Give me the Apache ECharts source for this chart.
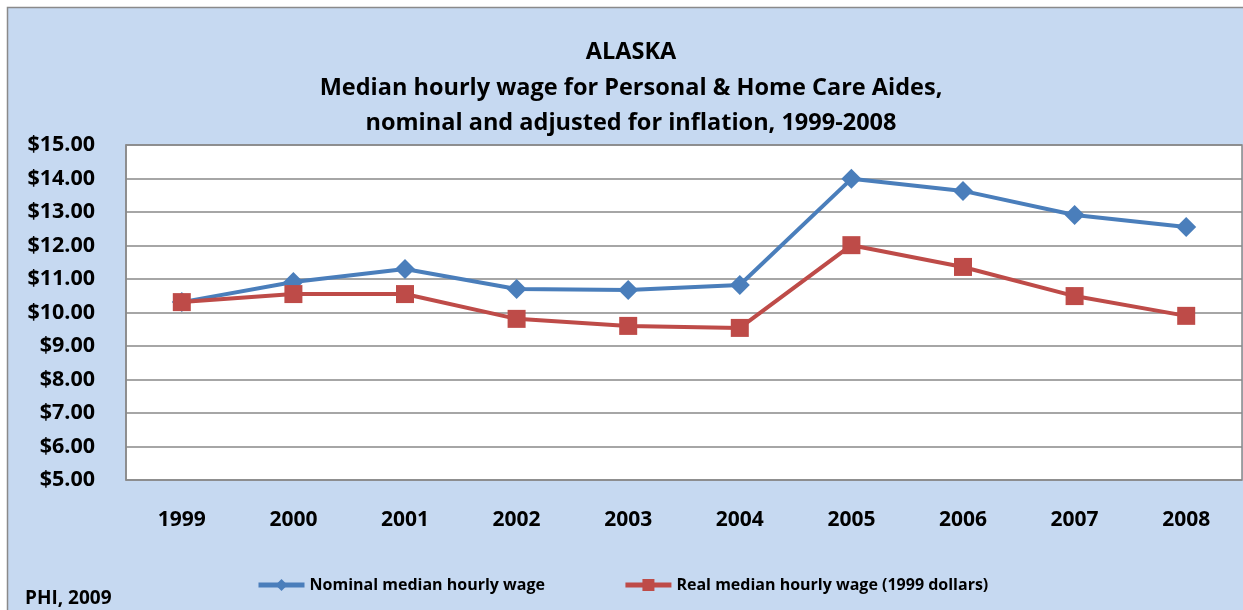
<!DOCTYPE html>
<html>
<head>
<meta charset="utf-8">
<script src="https://cdn.jsdelivr.net/npm/echarts@6/dist/echarts.min.js"></script>
<style>
  html, body { margin: 0; padding: 0; background: #fff; }
  #container { width: 1243px; height: 610px; }
</style>
</head>
<body>
<div id="container"></div>
<script>
// data
var years = ["1999", "2000", "2001", "2002", "2003", "2004", "2005", "2006", "2007", "2008"];
var nominalWage = [10.31, 10.91, 11.30, 10.70, 10.67, 10.82, 13.99, 13.63, 12.91, 12.55];
var realWage = [10.31, 10.55, 10.55, 9.81, 9.60, 9.54, 12.01, 11.36, 10.49, 9.90];

var titleLines = [
  "ALASKA",
  "Median hourly wage for Personal & Home Care Aides,",
  "nominal and adjusted for inflation, 1999-2008"
];

var font = "'Open Sans', 'Liberation Sans', sans-serif";

var dom = document.getElementById("container");
var myChart = echarts.init(dom);

var option = {
  backgroundColor: "#fff",
  animation: false,
  graphic: [
    {
      type: "rect",
      z: -10,
      shape: { x: 7.5, y: 7.5, width: 1250, height: 620 },
      style: { fill: "#C6D9F1", stroke: "#8a8a8a", lineWidth: 1.5 }
    },
    {
      type: "text",
      left: 25,
      top: 589,
      style: { text: "PHI, 2009", font: "bold 19px " + font, fill: "#000" }
    }
  ],
  title: {
    text: titleLines.join("\n"),
    left: 626,
    textAlign: "center",
    top: 30,
    textStyle: {
      fontFamily: font,
      fontWeight: "bold",
      fontSize: 23.5,
      lineHeight: 35.5,
      color: "#000"
    }
  },
  legend: {
    left: 251,
    top: 572,
    itemWidth: 46,
    itemHeight: 15,
    itemGap: 78,
    lineStyle: { width: 5 },
    textStyle: { fontFamily: font, fontWeight: "bold", fontSize: 16, color: "#000" },
    data: ["Nominal median hourly wage", "Real median hourly wage (1999 dollars)"]
  },
  grid: {
    left: 126,
    top: 145,
    right: 1,
    bottom: 130,
    show: true,
    backgroundColor: "#fff",
    borderColor: "#888",
    borderWidth: 1.5
  },
  xAxis: {
    type: "category",
    data: years,
    boundaryGap: true,
    axisLine: { show: false },
    axisTick: { show: false },
    axisLabel: {
      margin: 30,
      fontFamily: font,
      fontWeight: "bold",
      fontSize: 21,
      color: "#000"
    }
  },
  yAxis: {
    type: "value",
    min: 5,
    max: 15,
    interval: 1,
    axisLine: { show: true, lineStyle: { color: "#888", width: 1.5 } },
    axisTick: { show: false },
    splitLine: { lineStyle: { color: "#888", width: 1.5 } },
    axisLabel: {
      margin: 31,
      fontFamily: font,
      fontWeight: "bold",
      fontSize: 21.5,
      color: "#000",
      formatter: function (v) { return "$" + v.toFixed(2); }
    }
  },
  series: [
    {
      name: "Nominal median hourly wage",
      type: "line",
      data: nominalWage,
      symbol: "diamond",
      symbolSize: 20,
      lineStyle: { color: "#4A7EBB", width: 4 },
      itemStyle: { color: "#4A7EBB" },
      z: 2
    },
    {
      name: "Real median hourly wage (1999 dollars)",
      type: "line",
      data: realWage,
      symbol: "rect",
      symbolSize: 18,
      lineStyle: { color: "#BE4B48", width: 4 },
      itemStyle: { color: "#BE4B48" },
      z: 3
    }
  ]
};

myChart.setOption(option, true);
</script>
</body>
</html>
